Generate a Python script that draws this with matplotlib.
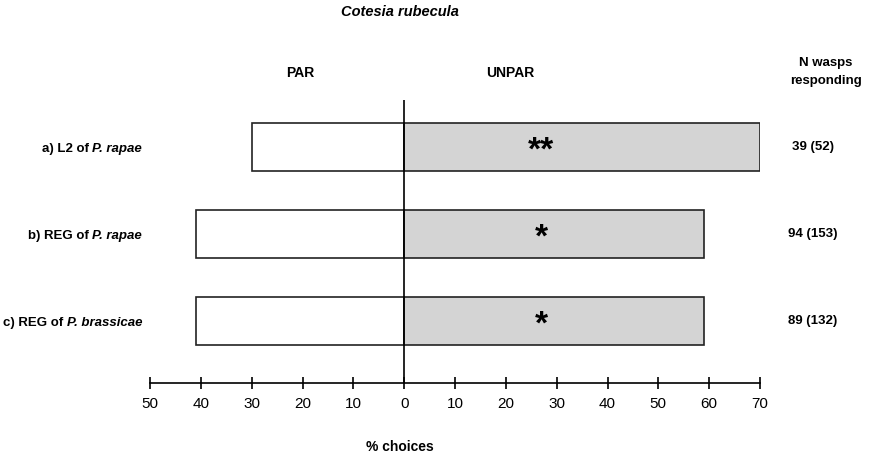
import matplotlib
matplotlib.use("Agg")
import matplotlib.pyplot as plt
from matplotlib.transforms import offset_copy, blended_transform_factory

plt.rcParams['font.family'] = ['Liberation Sans', 'DejaVu Sans']

# Datos
categorias = ["a) L2 of ", "b) REG of ", "c) REG of "]
especies = ["P. rapae", "P. rapae", "P. brassicae"]
par = [30, 41, 41]
unpar = [70, 59, 59]
signif = ["**", "*", "*"]
n_wasps = ["39 (52)", "94 (153)", "89 (132)"]
ticks = [-50, -40, -30, -20, -10, 0, 10, 20, 30, 40, 50, 60, 70]
tick_labels = [str(abs(t)) for t in ticks]

fig = plt.figure(figsize=(8.71, 4.61), dpi=100)
ax = fig.add_axes([150 / 871, 1 - 383 / 461, 610 / 871, 283 / 461])

y = range(len(categorias))
bar_h = 0.55
ax.barh(y, [-v for v in par], height=bar_h, color='white', edgecolor='#222222', linewidth=1.2)
ax.barh(y, unpar, height=bar_h, color='#d4d4d4', edgecolor='#222222', linewidth=1.2)
ax.axvline(0, color='black', linewidth=1.2)

ax.set_xlim(-50, 70)
ax.set_ylim(2.71, -0.54)
ax.set_xticks(ticks)
ax.set_xticklabels(tick_labels, fontsize=11)
ax.tick_params(axis='x', direction='inout', length=8, width=1.2, pad=6)
ax.set_yticks([])
for s in ['top', 'left', 'right']:
    ax.spines[s].set_visible(False)
ax.spines['bottom'].set_linewidth(1.2)

# Asteriscos de significancia
for i, s in enumerate(signif):
    ax.text(27, i + 0.05, s, ha='center', va='center', fontsize=24, fontweight='bold')

# N de avispas (x en figura, y en datos)
trans_n = blended_transform_factory(fig.transFigure, ax.transData)
for i, n in enumerate(n_wasps):
    ax.text(813 / 871, i, n, transform=trans_n, fontsize=9.5,
            fontweight='bold', ha='center', va='center', clip_on=False)

# Etiquetas con nombre en cursiva
fig.canvas.draw()
renderer = fig.canvas.get_renderer()
for i, (c, e) in enumerate(zip(categorias, especies)):
    x_fig = 142 / 871
    ypix = ax.transData.transform((0, i))[1]
    y_fig = ypix / fig.bbox.height
    t1 = fig.text(x_fig, y_fig, e, fontsize=9.5, fontweight='bold', fontstyle='italic',
                  ha='right', va='center_baseline')
    w = t1.get_window_extent(renderer).width
    fig.text(x_fig, y_fig, c, fontsize=9.5, fontweight='bold',
             ha='right', va='center_baseline',
             transform=offset_copy(fig.transFigure, fig=fig, x=-w, y=0, units='dots'))

fig.text(400 / 871, 1 - 12 / 461, "Cotesia rubecula", fontsize=10.5, fontweight='bold',
         fontstyle='italic', ha='center', va='center')
fig.text(300 / 871, 1 - 73 / 461, "PAR", fontsize=10, fontweight='bold', ha='center', va='center')
fig.text(510 / 871, 1 - 73 / 461, "UNPAR", fontsize=10, fontweight='bold', ha='center', va='center')
fig.text(826 / 871, 1 - 72 / 461, "N wasps\nresponding", fontsize=9.5, fontweight='bold',
         ha='center', va='center', linespacing=1.6)
fig.text(400 / 871, 1 - 447 / 461, "% choices", fontsize=10, fontweight='bold',
         ha='center', va='center')

fig.savefig("out.png", dpi=100)
